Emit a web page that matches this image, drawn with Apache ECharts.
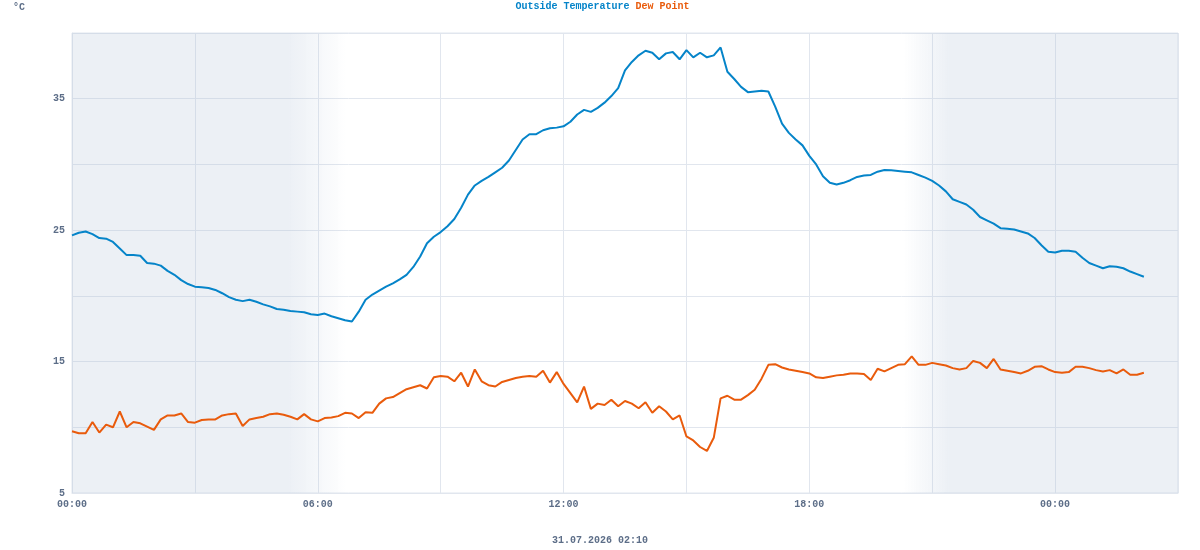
<!DOCTYPE html>
<html>
<head>
<meta charset="utf-8">
<title>Outside Temperature / Dew Point</title>
<script src="https://cdn.jsdelivr.net/npm/echarts@6/dist/echarts.min.js"></script>
<style>
  html, body { margin: 0; padding: 0; background: #fff; }
  #chart { width: 1200px; height: 550px; }
</style>
</head>
<body>
<div id="chart"></div>
<script>
  // samples every 10 minutes, starting 30.07 00:00
  const stepMinutes = 10;

  const outsideTemp = [
    24.6, 24.8, 24.9, 24.7, 24.4, 24.35,
    24.1, 23.6, 23.1, 23.1, 23.05, 22.5,
    22.45, 22.3, 21.9, 21.6, 21.2, 20.9,
    20.7, 20.65, 20.6, 20.45, 20.2, 19.9,
    19.7, 19.6, 19.7, 19.55, 19.35, 19.2,
    19.0, 18.95, 18.85, 18.8, 18.75, 18.6,
    18.55, 18.65, 18.45, 18.3, 18.15, 18.05,
    18.8, 19.7, 20.1, 20.4, 20.7, 20.95,
    21.25, 21.6, 22.2, 23.0, 24.0, 24.5,
    24.85, 25.3, 25.85, 26.7, 27.7, 28.4,
    28.75, 29.05, 29.4, 29.75, 30.3, 31.1,
    31.9, 32.3, 32.3, 32.6, 32.75, 32.8,
    32.9, 33.25, 33.8, 34.15, 34.0, 34.3,
    34.7, 35.2, 35.8, 37.15, 37.8, 38.3,
    38.65, 38.5, 38.0, 38.45, 38.55, 38.0,
    38.7, 38.15, 38.5, 38.15, 38.3, 38.9,
    37.05, 36.5, 35.9, 35.5, 35.55, 35.6,
    35.55, 34.4, 33.1, 32.4, 31.9, 31.45,
    30.65, 30.0, 29.1, 28.6, 28.47, 28.6,
    28.8, 29.05, 29.15, 29.2, 29.45, 29.58,
    29.55, 29.5, 29.45, 29.4, 29.2, 29.0,
    28.75, 28.4, 27.95, 27.35, 27.15, 26.95,
    26.55, 26.0, 25.75, 25.5, 25.15, 25.1,
    25.05, 24.9, 24.75, 24.4, 23.85, 23.35,
    23.3, 23.43, 23.43, 23.35, 22.9, 22.5,
    22.3, 22.1, 22.25, 22.22, 22.1, 21.85,
    21.65, 21.45
  ];

  const dewPoint = [
    9.7, 9.55, 9.55, 10.4, 9.6, 10.2,
    10.0, 11.2, 10.0, 10.4, 10.3, 10.05,
    9.8, 10.6, 10.9, 10.9, 11.05, 10.4,
    10.35, 10.55, 10.6, 10.6, 10.9, 11.0,
    11.05, 10.1, 10.6, 10.7, 10.8, 11.0,
    11.05, 10.95, 10.8, 10.6, 11.0, 10.6,
    10.45, 10.7, 10.75, 10.85, 11.1, 11.05,
    10.7, 11.15, 11.1, 11.8, 12.2, 12.3,
    12.6, 12.9, 13.05, 13.2, 12.95, 13.8,
    13.9, 13.85, 13.5, 14.15, 13.1, 14.4,
    13.5, 13.2, 13.1, 13.45, 13.6, 13.75,
    13.85, 13.9, 13.85, 14.3, 13.4, 14.2,
    13.3, 12.6, 11.9, 13.1, 11.4, 11.8,
    11.7, 12.1, 11.6, 12.0, 11.8, 11.45,
    11.9, 11.1, 11.6, 11.2, 10.6, 10.9,
    9.3, 9.0, 8.5, 8.2, 9.2, 12.2,
    12.4, 12.1, 12.1, 12.45, 12.85, 13.7,
    14.75, 14.8, 14.55, 14.4, 14.3, 14.2,
    14.1, 13.8, 13.75, 13.85, 13.95, 14.0,
    14.1, 14.1, 14.05, 13.6, 14.45, 14.25,
    14.5, 14.75, 14.8, 15.4, 14.75, 14.75,
    14.9, 14.8, 14.7, 14.5, 14.4, 14.5,
    15.05, 14.9, 14.5, 15.2, 14.4, 14.3,
    14.2, 14.1, 14.3, 14.6, 14.65, 14.4,
    14.2, 14.15, 14.2, 14.6, 14.6, 14.5,
    14.35, 14.25, 14.35, 14.1, 14.4, 14.0,
    14.0, 14.15
  ];

  // x axis in hours since 30.07 00:00, ticks every 3h
  const xTickLabels = ['00:00', '', '06:00', '', '12:00', '', '18:00', '', '00:00', ''];
  // night shading: [solid from, fade start, fade end] in hours
  const nightMorning = [0, 5.3, 6.7];
  const nightEvening = [20.3, 21.4, 27];

  const seriesNames = ['Outside Temperature', 'Dew Point'];
  const seriesColors = ['#0584c9', '#e95b0c'];
  const footerText = '31.07.2026 02:10';

  const FONT = "'Courier New', 'Liberation Mono', monospace";
  const TEXT_COLOR = '#5d6e88';
  const SHADE = 'rgba(175, 192, 214, 0.24)';
  const CLEAR = 'rgba(175, 192, 214, 0)';

  function toPairs(values) {
    return values.map(function (v, i) { return [i * stepMinutes / 60, v]; });
  }

  function fade(fromColor, toColor) {
    return {
      type: 'linear', x: 0, y: 0, x2: 1, y2: 0,
      colorStops: [{ offset: 0, color: fromColor }, { offset: 1, color: toColor }]
    };
  }

  const chart = echarts.init(document.getElementById('chart'), null, { renderer: 'canvas' });

  const option = {
    animation: false,
    textStyle: { fontFamily: FONT },
    grid: { left: 72, right: 22, top: 33, bottom: 57, show: true, borderColor: '#e1e6ee', borderWidth: 1 },
    title: [
      { text: '°C', left: 8, top: -3, textStyle: { fontFamily: FONT, fontSize: 10, fontWeight: 'bold', color: TEXT_COLOR } },
      { text: footerText, left: 'center', top: 530, textStyle: { fontFamily: FONT, fontSize: 10, fontWeight: 'bold', color: TEXT_COLOR } }
    ],
    legend: {
      top: -1,
      left: 'center',
      padding: [0, 5],
      icon: 'none',
      itemWidth: 0,
      itemGap: 1,
      selectedMode: false,
      data: seriesNames.map(function (n, i) {
        return { name: n, textStyle: { color: seriesColors[i], fontFamily: FONT, fontSize: 10, fontWeight: 'bold' } };
      })
    },
    xAxis: {
      type: 'value',
      min: 0,
      max: 27,
      interval: 3,
      axisLine: { show: true, lineStyle: { color: '#e1e6ee' } },
      axisTick: { show: false },
      splitLine: { show: true, lineStyle: { color: '#e1e6ee', width: 1 } },
      axisLabel: {
        margin: 6,
        color: TEXT_COLOR,
        fontFamily: FONT,
        fontSize: 10,
        fontWeight: 'bold',
        formatter: function (v) { return xTickLabels[Math.round(v / 3)] || ''; }
      }
    },
    yAxis: {
      type: 'value',
      min: 5,
      max: 40,
      interval: 5,
      axisLine: { show: true, lineStyle: { color: '#e1e6ee' } },
      axisTick: { show: false },
      splitLine: { show: true, lineStyle: { color: '#e1e6ee', width: 1 } },
      axisLabel: {
        margin: 7,
        color: TEXT_COLOR,
        fontFamily: FONT,
        fontSize: 10,
        fontWeight: 'bold',
        formatter: function (v) { return (v - 5) % 10 === 0 && v < 40 ? String(v) : ''; }
      }
    },
    series: [
      {
        name: seriesNames[0],
        type: 'line',
        data: toPairs(outsideTemp),
        showSymbol: false,
        lineStyle: { color: seriesColors[0], width: 2 },
        itemStyle: { color: seriesColors[0] },
        markArea: {
          silent: true,
          data: [
            [{ xAxis: nightMorning[0], itemStyle: { color: SHADE } }, { xAxis: nightMorning[1] }],
            [{ xAxis: nightMorning[1], itemStyle: { color: fade(SHADE, CLEAR) } }, { xAxis: nightMorning[2] }],
            [{ xAxis: nightEvening[0], itemStyle: { color: fade(CLEAR, SHADE) } }, { xAxis: nightEvening[1] }],
            [{ xAxis: nightEvening[1], itemStyle: { color: SHADE } }, { xAxis: nightEvening[2] }]
          ]
        }
      },
      {
        name: seriesNames[1],
        type: 'line',
        data: toPairs(dewPoint),
        showSymbol: false,
        lineStyle: { color: seriesColors[1], width: 2 },
        itemStyle: { color: seriesColors[1] }
      }
    ]
  };

  chart.setOption(option);
</script>
</body>
</html>
